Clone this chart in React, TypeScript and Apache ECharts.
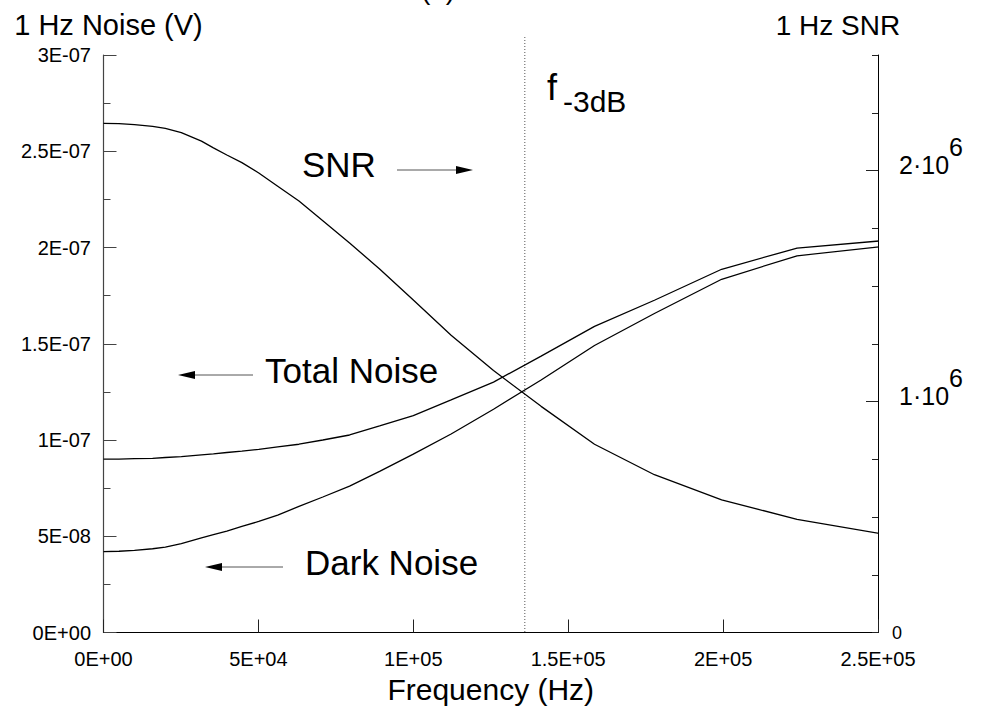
import React, { useEffect, useRef } from "react";
import * as echarts from "echarts";

// Sample frequencies (Hz)
const frequencies = [
  0, 5000, 10000, 15849, 19953, 25119, 31623, 35481, 39811, 44668, 50119,
  56234, 63096, 70795, 79433, 89125, 100000, 112202, 125893, 141254, 158489,
  177828, 199526, 223872, 251189,
];

// 1 Hz total noise (V)
const totalNoise = [
  9.01e-8, 9.01e-8, 9.03e-8, 9.05e-8, 9.09e-8, 9.14e-8, 9.23e-8, 9.28e-8,
  9.35e-8, 9.42e-8, 9.51e-8, 9.64e-8, 9.78e-8, 1.0e-7, 1.026e-7, 1.073e-7,
  1.127e-7, 1.208e-7, 1.301e-7, 1.436e-7, 1.59e-7, 1.726e-7, 1.887e-7,
  1.997e-7, 2.035e-7,
];

// 1 Hz dark noise (V)
const darkNoise = [
  4.2e-8, 4.22e-8, 4.27e-8, 4.35e-8, 4.44e-8, 4.62e-8, 4.91e-8, 5.08e-8,
  5.27e-8, 5.51e-8, 5.77e-8, 6.1e-8, 6.55e-8, 7.04e-8, 7.6e-8, 8.37e-8,
  9.27e-8, 1.031e-7, 1.16e-7, 1.312e-7, 1.491e-7, 1.657e-7, 1.835e-7,
  1.957e-7, 2.005e-7,
];

// 1 Hz signal-to-noise ratio
const snr = [
  2.204e6, 2.203e6, 2.199e6, 2.191e6, 2.182e6, 2.164e6, 2.127e6, 2.098e6,
  2.067e6, 2.034e6, 1.989e6, 1.932e6, 1.868e6, 1.783e6, 1.686e6, 1.574e6,
  1.439e6, 1.287e6, 1.134e6, 0.979e6, 0.815e6, 0.683e6, 0.574e6, 0.49e6,
  0.427e6,
];

// -3 dB cut-off frequency (Hz)
const f3dB = 136000;

const xTickLabels = ["0E+00", "5E+04", "1E+05", "1.5E+05", "2E+05", "2.5E+05"];
const noiseTickLabels = ["0E+00", "5E-08", "1E-07", "1.5E-07", "2E-07", "2.5E-07", "3E-07"];
const snrTickValues = [0, 1e6, 2e6];
const snrTickLabels = ["{z|0}", "{m|1·10}{s|6}", "{m|2·10}{s|6}"];

const FONT = "'Liberation Sans', Arial, Helvetica, sans-serif";

const pairs = (ys: number[]) => frequencies.map((f, i) => [f, ys[i]]);

export default function App() {
  const ref = useRef<HTMLDivElement>(null);

  useEffect(() => {
    const chart = echarts.init(ref.current!, null, { renderer: "svg" });

    const curve = (name: string, ys: number[], yAxisIndex: number) => ({
      name,
      type: "line",
      yAxisIndex,
      data: pairs(ys),
      showSymbol: false,
      symbol: "none",
      smooth: false,
      lineStyle: { color: "#000", width: 1.3 },
      clip: true,
    });

    chart.setOption({
      animation: false,
      backgroundColor: "#fff",
      textStyle: { fontFamily: FONT, color: "#000" },
      grid: { left: 103.5, right: 103, top: 55, bottom: 74.5, outerBoundsMode: "none" },
      xAxis: {
        type: "value",
        min: 0,
        max: 250000,
        interval: 50000,
        name: "Frequency (Hz)",
        nameLocation: "middle",
        nameGap: 57,
        nameTextStyle: { fontSize: 30, fontFamily: FONT, color: "#000", verticalAlign: "middle" },
        axisLine: { show: true, lineStyle: { color: "#000", width: 1 } },
        axisTick: { show: true, inside: true, length: 13, lineStyle: { color: "#222" } },
        axisLabel: {
          fontSize: 20,
          fontFamily: FONT,
          color: "#000",
          margin: 16,
          formatter: (_v: number, i: number) => xTickLabels[i] ?? "",
        },
        splitLine: { show: false },
      },
      yAxis: [
        {
          type: "value",
          position: "left",
          min: 0,
          max: 3e-7,
          interval: 5e-8,
          name: "1 Hz Noise (V)",
          nameLocation: "end",
          nameGap: 30,
          nameTextStyle: {
            fontSize: 29,
            fontFamily: FONT,
            color: "#000",
            align: "center",
            verticalAlign: "middle",
            padding: [0, 0, 0, 10],
          },
          axisLine: { show: true, lineStyle: { color: "#444", width: 1.2 } },
          axisTick: { show: true, inside: true, length: 13, lineStyle: { color: "#444" } },
          minorTick: { show: true, splitNumber: 2, length: 7, lineStyle: { color: "#444" } },
          axisLabel: {
            fontSize: 20,
            fontFamily: FONT,
            color: "#000",
            margin: 12.5,
            formatter: (_v: number, i: number) => noiseTickLabels[i] ?? "",
          },
          splitLine: { show: false },
        },
        {
          type: "value",
          position: "right",
          min: 0,
          max: 2.5e6,
          interval: 250000,
          name: "1 Hz SNR",
          nameLocation: "end",
          nameGap: 30,
          nameTextStyle: {
            fontSize: 28,
            fontFamily: FONT,
            color: "#000",
            align: "center",
            verticalAlign: "middle",
            padding: [0, 80, 0, 0],
          },
          axisLine: { show: true, lineStyle: { color: "#000", width: 1 } },
          axisTick: { show: true, inside: true, length: 6, lineStyle: { color: "#222" } },
          axisLabel: { show: false },
          splitLine: { show: false },
        },
        {
          type: "value",
          position: "right",
          min: 0,
          max: 2.5e6,
          interval: 1e6,
          axisLine: { show: false },
          axisTick: {
            show: true,
            inside: true,
            length: 12,
            customValues: [1e6, 2e6],
            lineStyle: { color: "#222" },
          },
          axisLabel: {
            show: true,
            customValues: snrTickValues,
            margin: 14,
            color: "#000",
            fontFamily: FONT,
            formatter: (v: number) => {
              const i = snrTickValues.indexOf(v);
              return i >= 0 ? snrTickLabels[i] : "";
            },
            rich: {
              z: { fontSize: 18, fontFamily: FONT, color: "#000" },
              m: {
                fontSize: 25,
                fontFamily: FONT,
                color: "#000",
                verticalAlign: "bottom",
                padding: [0, 0, 30, 7],
              },
              s: {
                fontSize: 25,
                fontFamily: FONT,
                color: "#000",
                verticalAlign: "top",
                lineHeight: 73,
              },
            },
          },
          splitLine: { show: false },
        },
      ],
      series: [
        curve("Total Noise", totalNoise, 0),
        curve("Dark Noise", darkNoise, 0),
        curve("SNR", snr, 1),
      ],
    });

    const fx = chart.convertToPixel({ xAxisIndex: 0 }, f3dB) as number;
    const yBottom = chart.convertToPixel({ yAxisIndex: 0 }, 0) as number;

    const label = (text: string, x: number, y: number, size: number) => ({
      type: "text",
      x,
      y,
      silent: true,
      style: {
        text,
        fontSize: size,
        fontFamily: FONT,
        fill: "#000",
        align: "left",
        verticalAlign: "middle",
      },
    });

    const arrow = (x1: number, x2: number, y: number, tipX: number, dir: number) => [
      {
        type: "line",
        silent: true,
        shape: { x1, y1: y, x2, y2: y },
        style: { stroke: "#555", lineWidth: 1 },
      },
      {
        type: "polygon",
        silent: true,
        shape: {
          points: [
            [tipX, y],
            [tipX - dir * 17, y - 4],
            [tipX - dir * 17, y + 4],
          ],
        },
        style: { fill: "#000" },
      },
    ];

    chart.setOption({
      graphic: [
        {
          type: "text",
          x: 438,
          y: -11,
          silent: true,
          style: {
            text: "(b)",
            fontSize: 28,
            fontFamily: FONT,
            fill: "#000",
            align: "center",
            verticalAlign: "middle",
          },
        },
        {
          type: "line",
          silent: true,
          shape: { x1: fx, y1: 37, x2: fx, y2: yBottom },
          style: { stroke: "#555", lineWidth: 1, lineDash: [1, 2] },
        },
        label("f", 547, 87, 36),
        label("-3dB", 563, 101, 30),
        label("SNR", 302, 164, 35),
        ...arrow(397, 460, 170, 473, 1),
        label("Total Noise", 265, 370, 35),
        ...arrow(253, 190, 375, 178, -1),
        label("Dark Noise", 305, 562, 35),
        ...arrow(283, 217, 567, 205, -1),
      ],
    });

    return () => chart.dispose();
  }, []);

  return (
    <div
      ref={ref}
      style={{ position: "fixed", left: 0, top: 0, width: 981, height: 707, background: "#fff" }}
    />
  );
}
